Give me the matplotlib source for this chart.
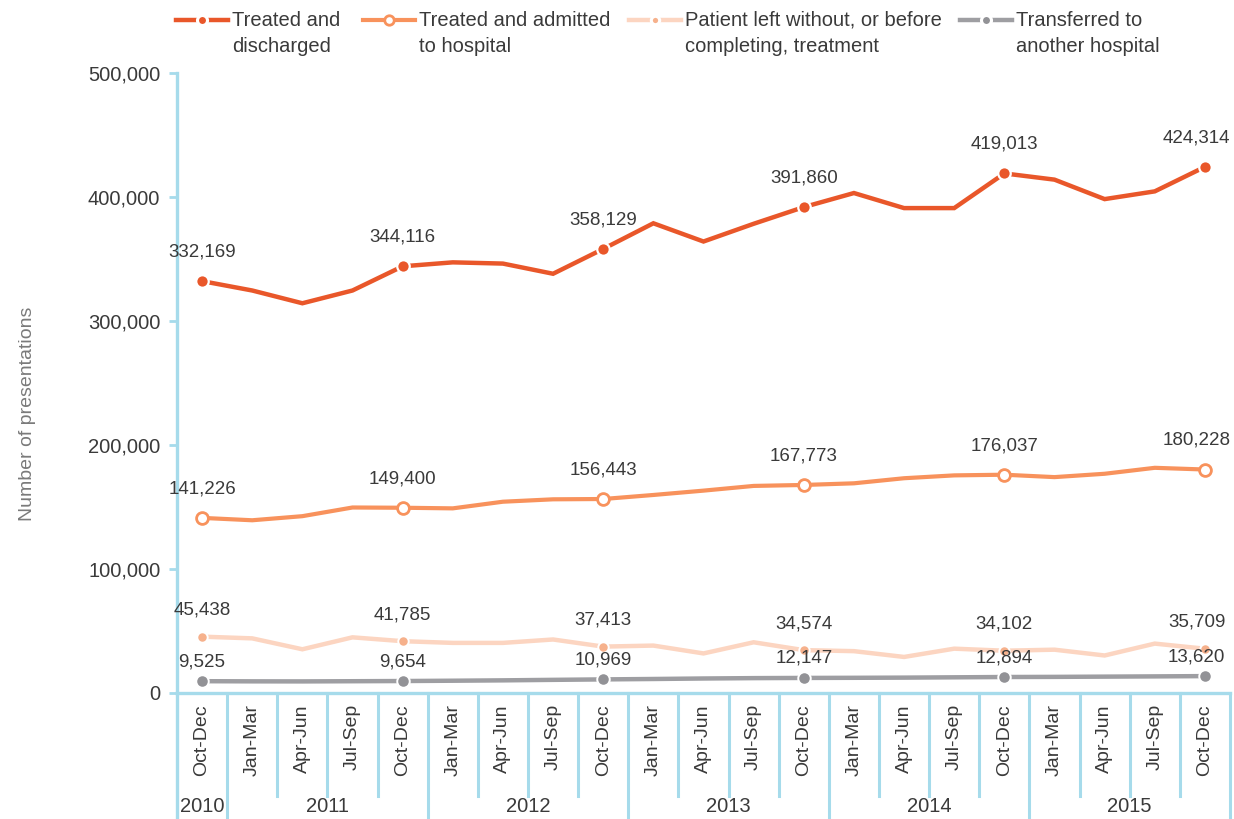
import matplotlib
matplotlib.use("Agg")
import matplotlib.pyplot as plt
from matplotlib.lines import Line2D

plt.rcParams['font.family'] = ['Liberation Sans', 'DejaVu Sans']

# quarters and years along the x axis
quarters = ["Oct-Dec",
            "Jan-Mar", "Apr-Jun", "Jul-Sep", "Oct-Dec",
            "Jan-Mar", "Apr-Jun", "Jul-Sep", "Oct-Dec",
            "Jan-Mar", "Apr-Jun", "Jul-Sep", "Oct-Dec",
            "Jan-Mar", "Apr-Jun", "Jul-Sep", "Oct-Dec",
            "Jan-Mar", "Apr-Jun", "Jul-Sep", "Oct-Dec"]
years = ["2010"] + ["2011"] * 4 + ["2012"] * 4 + ["2013"] * 4 + ["2014"] * 4 + ["2015"] * 4

discharged = [332169, 324600, 314300, 324600, 344116, 347300, 346300, 338100, 358129,
              378800, 364100, 378400, 391860, 403200, 391050, 391050, 419013, 414000,
              398300, 404550, 424314]
admitted = [141226, 139300, 142600, 149600, 149400, 148900, 154260, 156200, 156443,
            159700, 163200, 167000, 167773, 169100, 173200, 175500, 176037, 174100,
            176800, 181600, 180228]
left_without = [45438, 44060, 35260, 44890, 41785, 40410, 40410, 43160, 37413, 38240,
                31910, 40900, 34574, 33750, 29070, 35750, 34102, 34930, 30250, 39830,
                35709]
transferred = [9525, 9400, 9350, 9500, 9654, 9900, 10200, 10600, 10969, 11300, 11700,
               12000, 12147, 12250, 12400, 12650, 12894, 13000, 13200, 13400, 13620]

labelled = [0, 4, 8, 12, 16, 20]   # points that carry a marker and value

series_names = ["Treated and\ndischarged", "Treated and admitted\nto hospital",
                "Patient left without, or before\ncompleting, treatment",
                "Transferred to\nanother hospital"]

W, H = 1234, 819
fig = plt.figure(figsize=(W / 100, H / 100), dpi=100)
ax = fig.add_axes([177 / W, 126 / H, 1053 / W, 620 / H])

axis_col = '#a6dbeb'
txt_col = '#3a3a3a'
x = list(range(len(quarters)))

styles = [
    # data, line colour, line width, marker size, face, edge, edge width, label offset
    (discharged, '#e9572a', 3.2, 9, '#e9572a', 'white', 1.6, 21),
    (admitted, '#f8925c', 3.0, 8.5, 'white', '#f8925c', 2.0, 21),
    (left_without, '#fcd5c1', 3.2, 7.5, '#f6b18c', 'white', 1.4, 19),
    (transferred, '#9e9ea2', 3.2, 9, '#929296', 'white', 1.4, 14),
]

for z, (vals, col, lw, ms, mfc, mec, mew, off) in enumerate(styles):
    zo = 10 - z
    ax.plot(x, vals, color=col, lw=lw, solid_joinstyle='miter', zorder=zo)
    ax.plot([x[i] for i in labelled], [vals[i] for i in labelled], 'o', ms=ms,
            mfc=mfc, mec=mec, mew=mew, zorder=zo + 0.5)
    for i in labelled:
        dx = -6 if i == x[-1] else 0   # keep the last labels inside the figure
        ax.annotate(f"{vals[i]:,}", (x[i], vals[i]), xytext=(dx, off),
                    textcoords='offset points', ha='center', va='center',
                    fontsize=13.5, color=txt_col, zorder=20)

ax.set_xlim(-0.5, len(quarters) - 0.5)
ax.set_ylim(0, 500000)
ax.set_yticks(range(0, 500001, 100000))
ax.set_yticklabels([f"{v:,}" for v in range(0, 500001, 100000)])
ax.tick_params(axis='y', length=6, width=2, color=axis_col, labelsize=14.5,
               labelcolor=txt_col, pad=6)
ax.set_xticks(x)
ax.set_xticklabels(quarters, rotation=90, fontsize=14, color=txt_col)
ax.tick_params(axis='x', length=0, pad=8)

for s in ['top', 'right']:
    ax.spines[s].set_visible(False)
for s in ['left', 'bottom']:
    ax.spines[s].set_color(axis_col)
    ax.spines[s].set_linewidth(2.4)

ax.set_ylabel("Number of presentations", fontsize=14, color='#7a7a7a', labelpad=0)
ax.yaxis.set_label_coords(-141 / 1053, 0.45)

# separators below the axis
tr = ax.get_xaxis_transform()
bottom = -126 / 620
q_end = -103 / 620
ax.plot([-0.5, -0.5], [0, bottom], color=axis_col, lw=2.4, transform=tr, clip_on=False)
starts = [0]
for i in range(1, len(quarters)):
    if years[i] != years[i - 1]:
        starts.append(i)
        ax.plot([i - 0.5, i - 0.5], [0, bottom], color=axis_col, lw=2.2, transform=tr, clip_on=False)
    else:
        ax.plot([i - 0.5, i - 0.5], [0, q_end], color=axis_col, lw=2.2, transform=tr, clip_on=False)
n = len(quarters)
ax.plot([n - 0.5, n - 0.5], [0, bottom], color=axis_col, lw=2.2, transform=tr, clip_on=False)
starts.append(n)
for a, b in zip(starts[:-1], starts[1:]):
    ax.text((a + b - 1) / 2, -113 / 620, years[a], transform=tr, ha='center', va='center',
            fontsize=14.5, color=txt_col)

# legend drawn across the top
handle_x = [176, 363, 629, 960]
for (vals, col, lw, ms, mfc, mec, mew, off), hx, name in zip(styles, handle_x, series_names):
    yy = 1 - 20 / H
    fig.add_artist(Line2D([hx / W, (hx + 26) / W, (hx + 52) / W], [yy, yy, yy],
                          color=col, lw=lw, marker='o', markevery=[1], ms=ms * 0.8,
                          mfc=mfc, mec='white' if mfc != 'white' else mec,
                          mew=2.2 if mfc != 'white' else mew,
                          transform=fig.transFigure))
    fig.text((hx + 56) / W, 1 - 11 / H, name, ha='left', va='top', fontsize=14.5,
             color=txt_col, linespacing=1.45)

fig.savefig("out.png", dpi=100)
